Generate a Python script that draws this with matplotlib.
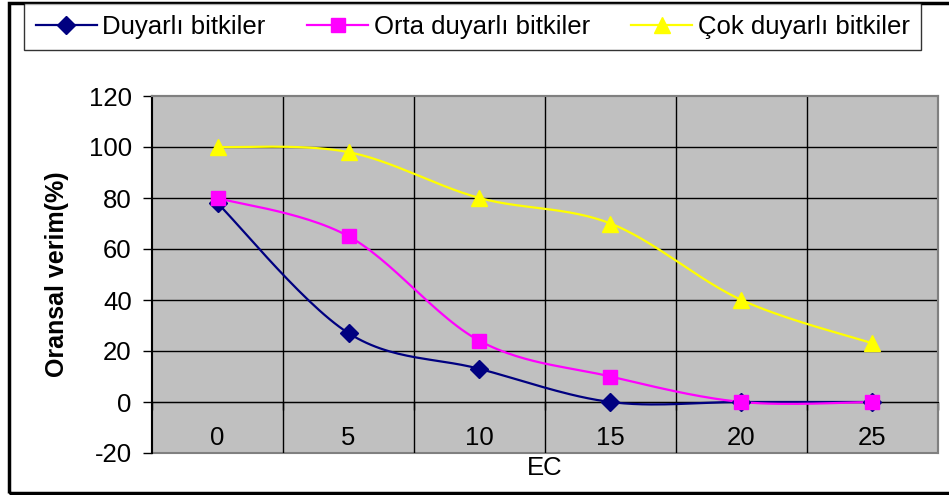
import numpy as np
import matplotlib
matplotlib.use("Agg")
import matplotlib.pyplot as plt
from matplotlib.patches import Rectangle

plt.rcParams['font.family'] = ['Liberation Sans', 'DejaVu Sans']
plt.rcParams['axes.unicode_minus'] = False

ec = ["0", "5", "10", "15", "20", "25"]
duyarli = [78, 27, 13, 0, 0, 0]
orta = [80, 65, 24, 10, 0, 0]
cok = [100, 98, 80, 70, 40, 23]
y_ticks = [-20, 0, 20, 40, 60, 80, 100, 120]

FS = 18.5


def smooth(xs, ys, n=30):
    # bezier smoothing like the spreadsheet "smoothed line" option
    p = np.column_stack([xs, ys]).astype(float)
    ext = np.vstack([p[0], p, p[-1]])
    out = []
    for i in range(len(p) - 1):
        p0, p1, p2, p3 = ext[i], ext[i + 1], ext[i + 2], ext[i + 3]
        c1 = p1 + (p2 - p0) / 6
        c2 = p2 - (p3 - p1) / 6
        t = np.linspace(0, 1, n)[:, None]
        seg = ((1 - t) ** 3) * p1 + 3 * ((1 - t) ** 2) * t * c1 + 3 * (1 - t) * t ** 2 * c2 + t ** 3 * p2
        out.append(seg if i == 0 else seg[1:])
    out = np.vstack(out)
    return out[:, 0], out[:, 1]


fig = plt.figure(figsize=(9.49, 4.95), dpi=100)
W, H = 949, 495
ax = fig.add_axes([152 / W, (H - 453) / H, 786 / W, 357 / H])
ax.set_facecolor("#C0C0C0")

x = np.arange(len(ec))
ax.set_xlim(-0.5, len(ec) - 0.5)
ax.set_ylim(y_ticks[0], y_ticks[-1])

# grid
for yv in y_ticks[1:-1]:
    ax.axhline(yv, color="black", lw=1, zorder=1)
for xb in np.arange(-0.5, len(ec) + 0.5)[1:-1]:
    ax.axvline(xb, color="black", lw=1, zorder=1)

series = [
    (duyarli, "Duyarlı bitkiler", "#000080", "D", 9.5),
    (orta, "Orta duyarlı bitkiler", "#FF00FF", "s", 9.5),
    (cok, "Çok duyarlı bitkiler", "#FFFF00", "^", 11.5),
]
for vals, name, col, mk, ms in series:
    sx, sy = smooth(x, vals)
    ax.plot(sx, sy, color=col, lw=1.6, zorder=3)
    ax.plot(x, vals, ls="none", marker=mk, ms=ms, color=col, zorder=4)
    ax.plot([], [], color=col, lw=1.6, marker=mk, ms=ms, label=name)

# axes
ax.spines["bottom"].set_position(("data", 0))
ax.spines["bottom"].set_color("black")
ax.spines["left"].set_color("black")
ax.spines["left"].set_linewidth(1.5)
ax.spines["top"].set_color("#808080")
ax.spines["right"].set_color("#808080")
ax.spines["top"].set_linewidth(1.5)
ax.spines["right"].set_linewidth(1.5)
ax.add_patch(Rectangle((0, 0), 1, 1, transform=ax.transAxes, fill=False,
                       edgecolor="#808080", lw=1.5, clip_on=False, zorder=0.5))

ax.set_yticks(y_ticks)
ax.tick_params(axis="y", length=6.5, width=1, pad=8, labelsize=FS)
ax.set_xticks(np.arange(-0.5, len(ec) + 0.5), [""] * (len(ec) + 1))
ax.tick_params(axis="x", which="major", length=6, width=1)
ax.set_xticks(x, ec, minor=True)
ax.tick_params(axis="x", which="minor", length=0, pad=17, labelsize=FS)

ax.set_ylabel("Oransal verim(%)", fontsize=18, fontweight="bold", labelpad=14)
fig.text(545 / W, 1 - 468 / H, "EC", fontsize=FS, ha="center", va="center")

leg = fig.legend(loc="upper left", bbox_to_anchor=(24 / W, 1 - 3 / H), ncol=3,
                 fontsize=FS, frameon=True, fancybox=False, edgecolor="black",
                 handlelength=2.4, handletextpad=0.2, columnspacing=1.6,
                 borderpad=0.45, borderaxespad=0)
leg.get_frame().set_linewidth(1)

fig.add_artist(Rectangle((9 / W, 2 / H), 1.0, 490 / H, transform=fig.transFigure,
                         fill=False, edgecolor="black", lw=2.5, clip_on=False))

fig.savefig("out.png", dpi=100)
